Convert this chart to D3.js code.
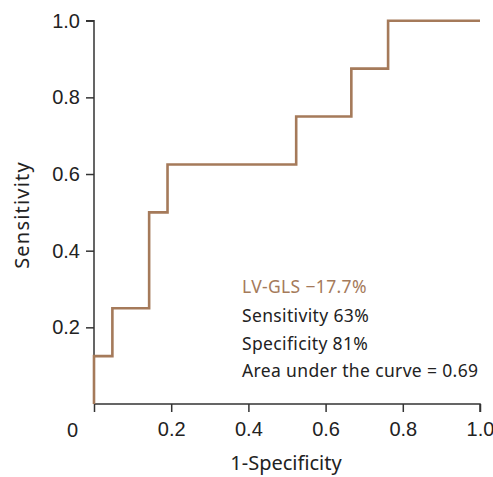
<!DOCTYPE html>
<html><head><meta charset="utf-8">
<script src="https://cdn.jsdelivr.net/npm/d3@7"></script>
<style>body{margin:0;background:#fff}</style>
</head><body>
<svg id="c" width="493" height="477"></svg>
<script>
const fpr = [0, 0, 1/21, 3/21, 4/21, 11/21, 14/21, 16/21, 1];
const tpr = [0, 0.125, 0.25, 0.5, 0.625, 0.75, 0.875, 1, 1];
const xTicks = [0.2, 0.4, 0.6, 0.8, 1.0];
const yTicks = [0.2, 0.4, 0.6, 0.8, 1.0];
const annot = ["LV-GLS \u221217.7%", "Sensitivity 63%", "Specificity 81%", "Area under the curve = 0.69"];

const svg = d3.select("#c");
const x = d3.scaleLinear().domain([0,1]).range([94,480]);
const y = d3.scaleLinear().domain([0,1]).range([404,20.7]);
const axisColor = "#333";
const tickFont = "'Liberation Sans', Arial, sans-serif";
const textFont = "'Noto Sans', sans-serif";

const xa = svg.append("g").attr("transform","translate(0,404)")
  .call(d3.axisBottom(x).tickValues([0].concat(xTicks)).tickSize(8).tickPadding(10).tickFormat(d=> d===0 ? "" : d3.format(".1f")(d)));
const ya = svg.append("g").attr("transform","translate(94,0)")
  .call(d3.axisLeft(y).tickValues(yTicks).tickSize(8).tickPadding(6).tickFormat(d3.format(".1f")));
[xa,ya].forEach(g=>{
  g.attr("font-family",null).attr("font-size",null);
  g.select(".domain").attr("stroke",axisColor).attr("stroke-width",1.5);
  g.selectAll(".tick line").attr("stroke",axisColor).attr("stroke-width",1.5);
  g.selectAll(".tick text").attr("fill","#222").style("font-family",tickFont).style("font-size","20px");
});
ya.select(".domain").attr("d","M-8,"+y(1)+"H0V"+y(0));
xa.select(".domain").attr("d","M"+x(0)+",0H"+x(1)+"V8");
svg.append("text").attr("x",72.5).attr("y",437).attr("text-anchor","middle")
  .style("font-family",tickFont).style("font-size","20px").attr("fill","#222").text("0");

const pts = fpr.map((f,i)=>[f,tpr[i]]);
svg.append("path").datum(pts)
  .attr("d", d3.line().x(d=>x(d[0])).y(d=>y(d[1])).curve(d3.curveStepAfter))
  .attr("fill","none").attr("stroke","#a57a5a").attr("stroke-width",2.6);

svg.append("text").attr("x",286).attr("y",470).attr("text-anchor","middle")
  .style("font-family",textFont).style("font-size","20px").attr("fill","#222").text("1-Specificity");
svg.append("text").attr("transform","translate(29,215) rotate(-90)").attr("text-anchor","middle")
  .style("font-family",textFont).style("font-size","20px").style("letter-spacing","1.2px").attr("fill","#222").text("Sensitivity");

const baselines = [293, 322, 349.5, 377];
annot.forEach((t,i)=>{
  svg.append("text").attr("x",242).attr("y",baselines[i])
    .style("font-family",textFont).style("font-size","17.5px").style("letter-spacing","0.35px")
    .attr("fill", i===0 ? "#a57a5a" : "#222").text(t);
});
</script>
</body></html>
